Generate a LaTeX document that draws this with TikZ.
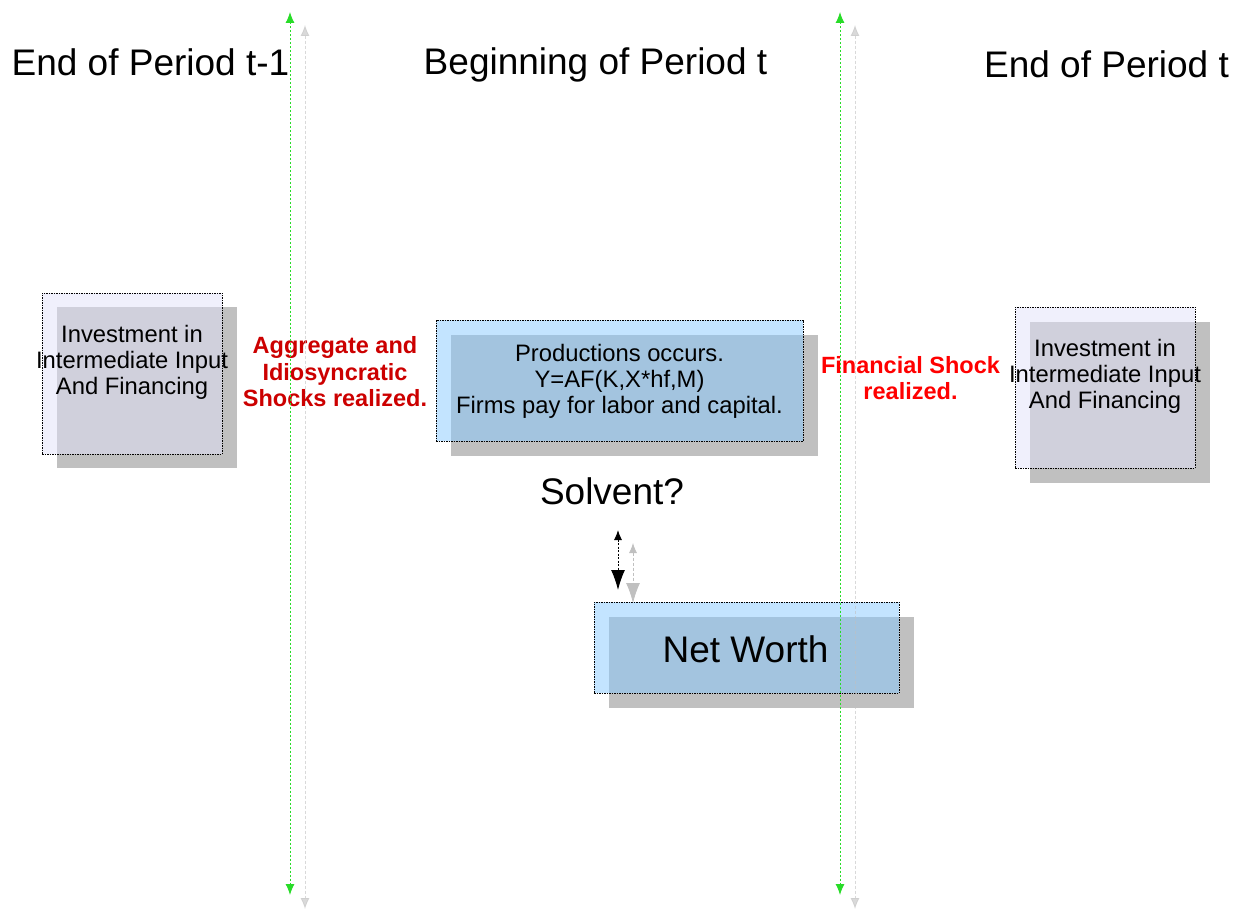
\documentclass[tikz,border=0pt]{standalone}
\usepackage{fontspec}
\setmainfont{Liberation Sans}
\usetikzlibrary{arrows.meta}

\definecolor{bluefill}{RGB}{135,201,255}
\definecolor{lavfill}{RGB}{225,225,249}
\definecolor{shadowgray}{RGB}{192,192,192}
\definecolor{darkred}{RGB}{204,0,0}
\definecolor{brightred}{RGB}{255,0,0}
\definecolor{arrowgreen}{RGB}{40,220,40}

\begin{document}
\begin{tikzpicture}[x=1pt,y=-1pt,
  shadowbox/.style={fill=shadowgray, draw=none, inner sep=0pt, minimum width=#1},
  frame/.style={draw=black, line width=0.8pt, dash pattern=on 1.5pt off 1pt, inner sep=0pt},
  bluebox/.style={frame, fill=bluefill, fill opacity=0.5},
  lavbox/.style={frame, fill=lavfill, fill opacity=0.5},
  boxtext/.style={align=center, font=\fontsize{23.8}{26}\selectfont, inner sep=0pt},
  header/.style={font=\fontsize{37}{40}\selectfont, inner sep=0pt},
  redlabel/.style={align=center, font=\fontsize{23.5}{26.5}\selectfont\bfseries, inner sep=0pt},
  timeline/.style={draw=arrowgreen, line width=1pt, dash pattern=on 2pt off 2pt,
    {Latex[length=11pt,width=9pt]}-{Latex[length=11pt,width=9pt]}},
  timeshadow/.style={draw=shadowgray, line width=0.8pt, dash pattern=on 3pt off 2pt, opacity=0.6,
    {Latex[length=11pt,width=9pt]}-{Latex[length=11pt,width=9pt]}},
  solvarrow/.style={draw=black, line width=1pt, dash pattern=on 2pt off 1.5pt,
    {Latex[length=10pt,width=8pt]}-{Latex[length=20pt,width=14pt]}},
  solvshadow/.style={draw=shadowgray, line width=0.8pt, dash pattern=on 3pt off 2pt,
    {Latex[length=10pt,width=8pt]}-{Latex[length=20pt,width=14pt]}}
]
\useasboundingbox (0,0) rectangle (1236,909);

% shadows
\node[shadowbox=180pt, minimum height=161pt] (lsh) at (147,387.5) {};
\node[shadowbox=367pt, minimum height=121pt] (msh) at (634.5,395) {};
\node[shadowbox=180pt, minimum height=161pt] (rsh) at (1120,402) {};
\node[shadowbox=305pt, minimum height=91pt] (nsh) at (761,662) {};

% boxes
\node[lavbox, minimum width=180pt, minimum height=161pt] (lbox) at (132,373.5) {};
\node[bluebox, minimum width=367pt, minimum height=121pt] (mbox) at (619.5,380.5) {};
\node[lavbox, minimum width=180pt, minimum height=161pt] (rbox) at (1105,387.5) {};
\node[bluebox, minimum width=305pt, minimum height=91pt] (nbox) at (746.5,647.5) {};

% box texts
\node[boxtext] (ltext) at (132,362) {Investment in\\Intermediate Input\\And Financing};
\node[boxtext] (mtext) at (619.5,381) {Productions occurs.\\Y=AF(K,X*hf,M)\\Firms pay for labor and capital.};
\node[boxtext] (rtext) at (1105,376) {Investment in\\Intermediate Input\\And Financing};
\node[font=\fontsize{37}{40}\selectfont, inner sep=0pt] (ntext) at (745.5,649) {Net Worth};

% headers
\node[header] (h1) at (150.5,62.5) {End of Period t-1};
\node[header] (h2) at (595.5,65) {Beginning of Period t};
\node[header] (h3) at (1106.5,64) {End of Period t};
\node[header] (solv) at (612,491) {Solvent?};

% red labels
\node[redlabel, text=darkred] (shock1) at (335,372) {Aggregate and\\Idiosyncratic\\Shocks realized.};
\node[redlabel, text=brightred] (shock2) at (910.5,378) {Financial Shock\\realized.};

% arrow coordinates
\coordinate (g1t) at (290,12);  \coordinate (g1b) at (290,895);
\coordinate (s1t) at (305,25);  \coordinate (s1b) at (305,909);
\coordinate (g2t) at (840,12);  \coordinate (g2b) at (840,895);
\coordinate (s2t) at (855,25);  \coordinate (s2b) at (855,909);
\coordinate (at) at (618,530);  \coordinate (ab) at (618,590);
\coordinate (ast) at (633,543); \coordinate (asb) at (633,603);

\draw[timeshadow] (s1t) -- (s1b);
\draw[timeshadow] (s2t) -- (s2b);
\draw[timeline] (g1t) -- (g1b);
\draw[timeline] (g2t) -- (g2b);
\draw[solvshadow] (ast) -- (asb);
\draw[solvarrow] (at) -- (ab);
\end{tikzpicture}
\end{document}
